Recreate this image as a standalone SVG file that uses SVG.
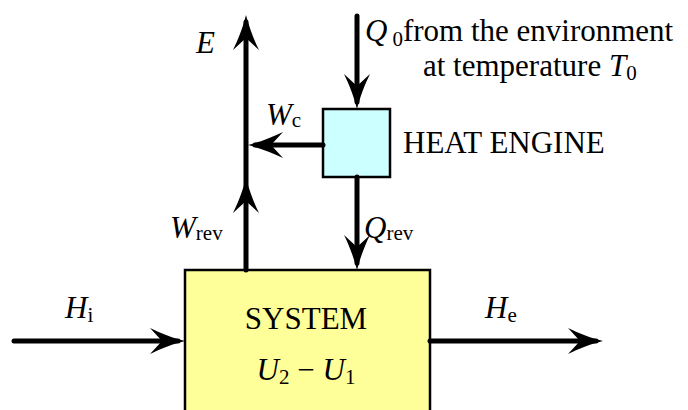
<svg xmlns="http://www.w3.org/2000/svg" width="688" height="410" viewBox="0 0 688 410">
<style>
.t{font-family:"Liberation Serif","Times New Roman",serif;font-size:31px;fill:#000}
.i{font-style:italic}
.s{font-size:21px;font-style:normal}
.ln{stroke:#000;stroke-width:5;fill:none;stroke-linecap:round}
.box{stroke:#000;stroke-width:2.5}
</style>
<defs>
<path id="ah" d="M0,0 C3,12 8,25 13,35 L0,23 L-13,35 C-8,25 -3,12 0,0 Z" fill="#000"/>
</defs>
<g id="system">
<rect class="box" x="185" y="270" width="245" height="150" fill="#ffff99"/>
<text class="t" x="306" y="329" text-anchor="middle">SYSTEM</text>
<text class="t" x="306" y="380" text-anchor="middle"><tspan class="i">U</tspan><tspan class="s" dy="4">2</tspan><tspan dy="-4"> − </tspan><tspan class="i">U</tspan><tspan class="s" dy="4">1</tspan></text>
</g>
<g id="heat-engine">
<rect class="box" x="323" y="109" width="67" height="68" fill="#ccffff"/>
<text class="t" x="403" y="153">HEAT ENGINE</text>
</g>
<g id="connectors">
<line class="ln" x1="246" y1="270" x2="246" y2="22"/>
<use href="#ah" transform="translate(246,15)"/>
<use href="#ah" transform="translate(246,178)"/>
<line class="ln" x1="323" y1="145" x2="255" y2="145"/>
<use href="#ah" transform="translate(248,145) rotate(-90)"/>
<line class="ln" x1="357" y1="16" x2="357" y2="102"/>
<use href="#ah" transform="translate(357,109) rotate(180)"/>
<line class="ln" x1="357" y1="177" x2="357" y2="263"/>
<use href="#ah" transform="translate(357,270) rotate(180)"/>
<line class="ln" x1="14" y1="341" x2="178" y2="341"/>
<use href="#ah" transform="translate(185,341) rotate(90)"/>
<line class="ln" x1="430" y1="341" x2="596" y2="341"/>
<use href="#ah" transform="translate(603,341) rotate(90)"/>
</g>
<g id="labels">
<text class="t i" x="196" y="53">E</text>
<text class="t" x="266" y="125"><tspan class="i">W</tspan><tspan class="s" dy="2">c</tspan></text>
<text class="t" x="170" y="238"><tspan class="i">W</tspan><tspan class="s" dy="2">rev</tspan></text>
<text class="t" x="364" y="238"><tspan class="i">Q</tspan><tspan class="s" dy="2">rev</tspan></text>
<text class="t" x="365" y="41"><tspan class="i">Q</tspan><tspan class="s" dx="5" dy="5">0</tspan><tspan dy="-5">from the environment</tspan></text>
<text class="t" x="423" y="76">at temperature <tspan class="i">T</tspan><tspan class="s" dy="4">0</tspan></text>
<text class="t" x="65" y="318"><tspan class="i">H</tspan><tspan class="s" dy="4">i</tspan></text>
<text class="t" x="485" y="318"><tspan class="i">H</tspan><tspan class="s" dy="4">e</tspan></text>
</g>
</svg>
